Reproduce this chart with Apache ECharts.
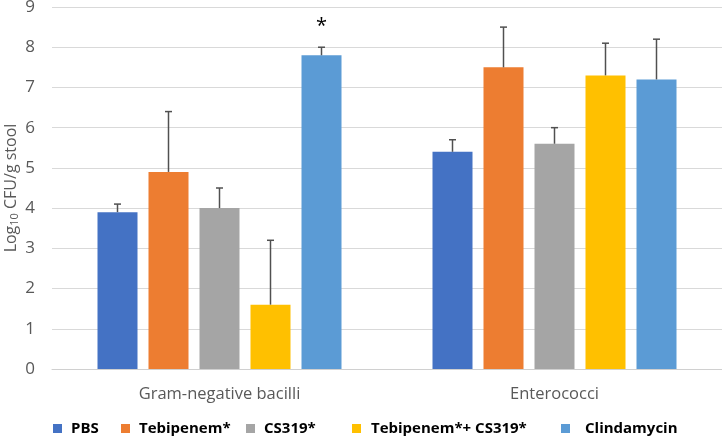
<!DOCTYPE html>
<html>
<head>
<meta charset="utf-8">
<script src="https://cdn.jsdelivr.net/npm/echarts@6/dist/echarts.min.js"></script>
<style>
html,body{margin:0;padding:0;background:#fff;}
#c{width:722px;height:442px;}
</style>
</head>
<body>
<div id="c"></div>
<script>
var categories = ['Gram-negative bacilli', 'Enterococci'];
var seriesNames = ['PBS', 'Tebipenem*', 'CS319*', 'Tebipenem*+ CS319*', 'Clindamycin'];
var colors = ['#4472C4', '#ED7D31', '#A5A5A5', '#FFC000', '#5B9BD5'];
var valPBS = [3.9, 5.4];
var valTebi = [4.9, 7.5];
var valCS = [4.0, 5.6];
var valCombo = [1.6, 7.3];
var valClinda = [7.8, 7.2];
var errPBS = [0.2, 0.3];
var errTebi = [1.5, 1.0];
var errCS = [0.5, 0.4];
var errCombo = [1.6, 0.8];
var errClinda = [0.2, 1.0];
var sigClinda = ['*', ''];
var yTicks = [0, 1, 2, 3, 4, 5, 6, 7, 8, 9];

var values = [valPBS, valTebi, valCS, valCombo, valClinda];
var errors = [errPBS, errTebi, errCS, errCombo, errClinda];
var sigs = [['', ''], ['', ''], ['', ''], ['', ''], sigClinda];

var BAR_W = 40, GAP = 11, N = 5;
var FONT = '"Open Sans", "Noto Sans", sans-serif';

var series = [];
values.forEach(function (v, i) {
  series.push({
    name: seriesNames[i],
    type: 'bar',
    data: v,
    barWidth: BAR_W,
    barGap: (GAP / BAR_W * 100) + '%',
    itemStyle: { color: colors[i] },
    z: 2
  });
});
values.forEach(function (v, i) {
  var d = v.map(function (val, k) { return [k, val, val + errors[i][k], sigs[i][k]]; });
  series.push({
    type: 'custom',
    name: 'err' + i,
    data: d,
    z: 5,
    silent: true,
    renderItem: function (params, api) {
      var k = api.value(0);
      var base = api.coord([k, api.value(1)]);
      var top = api.coord([k, api.value(2)]);
      var total = N * BAR_W + (N - 1) * GAP;
      var x = base[0] - total / 2 + BAR_W / 2 + i * (BAR_W + GAP);
      var st = { stroke: '#505050', lineWidth: 1.5 };
      var children = [
        { type: 'line', shape: { x1: x, y1: base[1], x2: x, y2: top[1] }, style: st },
        { type: 'line', shape: { x1: x - 3.5, y1: top[1], x2: x + 3.5, y2: top[1] }, style: st }
      ];
      var s = sigs[i][k];
      if (s) {
        children.push({ type: 'text', style: { text: s, x: x, y: top[1] - 21, align: 'center', verticalAlign: 'middle', fill: '#000', font: '20px ' + FONT } });
      }
      return { type: 'group', children: children };
    }
  });
});

var legendLefts = [53, 121, 246, 352, 561];
var legendTextPad = [4, 4, 4, 5, 10];
var legends = seriesNames.map(function (n, i) {
  return {
    data: [n],
    left: legendLefts[i],
    top: 421,
    icon: 'rect',
    itemWidth: 9,
    itemHeight: 9,
    padding: 0,
    textStyle: { fontFamily: FONT, fontWeight: 'bold', fontSize: 15, color: '#000', padding: [0, 0, 0, legendTextPad[i]] }
  };
});

var chart = echarts.init(document.getElementById('c'));
chart.setOption({
  animation: false,
  color: colors,
  legend: legends,
  grid: { left: 52, right: 0, top: 7, bottom: 73, containLabel: false, outerBoundsMode: 'none' },
  xAxis: {
    type: 'category',
    data: categories,
    axisLine: { lineStyle: { color: '#d0d0d0', width: 1 } },
    axisTick: { show: false },
    axisLabel: { color: '#595959', fontFamily: FONT, fontSize: 16.5, margin: 17 }
  },
  yAxis: {
    type: 'value',
    min: yTicks[0],
    max: yTicks[yTicks.length - 1],
    interval: 1,
    axisLine: { show: false },
    axisTick: { show: false },
    splitLine: { lineStyle: { color: '#d9d9d9', width: 1 } },
    axisLabel: { color: '#595959', fontFamily: FONT, fontSize: 17, margin: 17 },
    name: '{a|Log}{b|10}{a| CFU/g stool}',
    nameLocation: 'middle',
    nameGap: 32,
    nameRotate: 90,
    nameMoveOverlap: false,
    nameTextStyle: {
      rich: {
        a: { color: '#595959', fontFamily: FONT, fontSize: 16 },
        b: { color: '#595959', fontFamily: FONT, fontSize: 11, verticalAlign: 'bottom', padding: [7, 0, 0, 0] }
      }
    }
  },
  series: series
});
</script>
</body>
</html>
